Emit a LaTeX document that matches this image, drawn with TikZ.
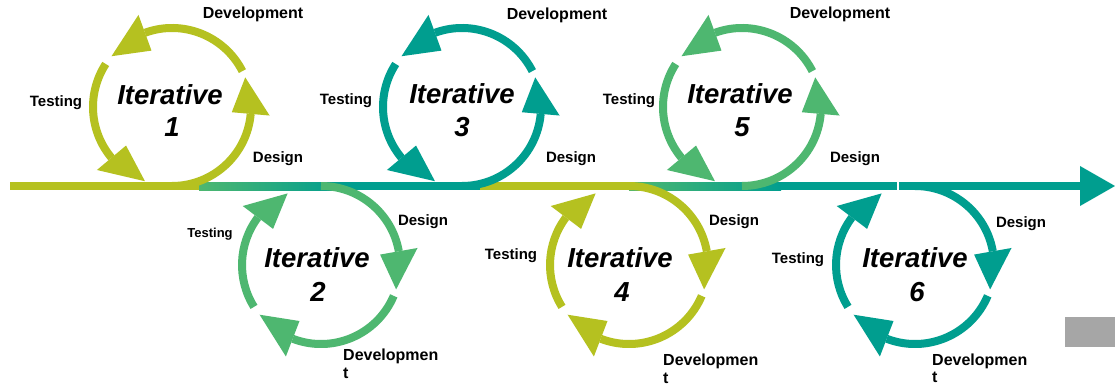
\documentclass[tikz,border=0pt]{standalone}
\usepackage{fontspec}
\setmainfont{Liberation Sans}
\definecolor{cyl}{RGB}{181,193,32}
\definecolor{cteal}{RGB}{0,158,143}
\definecolor{cgrn}{RGB}{78,183,112}
\definecolor{cgray}{RGB}{166,166,166}
\tikzset{
  shaft/.style={line width=8pt},
  lbl/.style={font=\bfseries\fontsize{15}{18}\selectfont, anchor=base, inner sep=0pt},
  devlbl/.style={lbl, font=\bfseries\fontsize{16}{18}\selectfont},
  devlow/.style={devlbl, anchor=base west},
  itx/.style={font=\bfseries\itshape\fontsize{27.5}{32}\selectfont, anchor=base, inner sep=0pt}
}
\newcommand\UpCyc[2]{%
  \begin{scope}[shift={(#1,279)}]
    \draw[shaft,#2] (270:79) arc[start angle=270,end angle=355,radius=79];
    \fill[#2] (355:60) -- (355:98) -- (382:79) -- cycle;
    \draw[shaft,#2] (27:79) arc[start angle=27,end angle=110,radius=79];
    \fill[#2] (110:60) -- (110:98) -- (140:79) -- cycle;
    \draw[shaft,#2] (147:79) arc[start angle=147,end angle=220,radius=79];
    \fill[#2] (220:60) -- (220:98) -- (250:79) -- cycle;
  \end{scope}}
\newcommand\LowCyc[2]{%
  \begin{scope}[shift={(#1,121)}]
    \draw[shaft,#2] (90:79) arc[start angle=90,end angle=10,radius=79];
    \fill[#2] (10:60) -- (10:98) -- (-18:79) -- cycle;
    \draw[shaft,#2] (-23:79) arc[start angle=-23,end angle=-111,radius=79];
    \fill[#2] (-111:60) -- (-111:98) -- (-141:79) -- cycle;
    \draw[shaft,#2] (-148:79) arc[start angle=-148,end angle=-217,radius=79];
    \fill[#2] (-217:60) -- (-217:98) -- (-245:79) -- cycle;
  \end{scope}}
\begin{document}
\begin{tikzpicture}[x=1pt,y=1pt]
  \useasboundingbox[fill=white] (0,0) rectangle (1115,386);
  % main time line
  \draw[shaft,cyl] (10,200) -- (200,200);
  \shade[left color=cgrn,right color=cteal] (199,196) rectangle (341,204);
  \draw[shaft,cteal] (340,200) -- (480,200);
  \draw[shaft,cyl] (480,200) -- (630,200);
  \shade[left color=cgrn,right color=cteal] (629,196) rectangle (781,204);
  \draw[shaft,cteal] (780,200) -- (897,200);
  \draw[shaft,cteal] (899,200) -- (1082,200);
  \coordinate (tipA) at (1080,220);
  \coordinate (tipB) at (1080,180);
  \coordinate (tipC) at (1115,200);
  \fill[cteal] (tipA) -- (tipC) -- (tipB) -- cycle;
  % cycles
  \UpCyc{172}{cyl}
  \LowCyc{321}{cgrn}
  \UpCyc{462}{cteal}
  \LowCyc{629}{cyl}
  \UpCyc{742}{cgrn}
  \LowCyc{915}{cteal}
  % iteration titles
  \node[itx] (i1a) at (170,281) {Iterative};
  \node[itx] (i1b) at (172,249) {1};
  \node[itx] (i3a) at (462,282) {Iterative};
  \node[itx] (i3b) at (462,249) {3};
  \node[itx] (i5a) at (740,282) {Iterative};
  \node[itx] (i5b) at (742,249) {5};
  \node[itx] (i2a) at (317,119) {Iterative};
  \node[itx] (i2b) at (318,85) {2};
  \node[itx] (i4a) at (620,119) {Iterative};
  \node[itx] (i4b) at (622,85) {4};
  \node[itx] (i6a) at (915,119) {Iterative};
  \node[itx] (i6b) at (917,85) {6};
  % labels upper
  \node[devlbl] (d1) at (253,367) {Development};
  \node[lbl] (t1) at (56,279) {Testing};
  \node[lbl] (g1) at (278,223) {Design};
  \node[devlbl] (d3) at (557,366) {Development};
  \node[lbl] (t3) at (346,281) {Testing};
  \node[lbl] (g3) at (571,223) {Design};
  \node[devlbl] (d5) at (840,367) {Development};
  \node[lbl] (t5) at (629,281) {Testing};
  \node[lbl] (g5) at (855,223) {Design};
  % labels lower
  \node[lbl,font=\bfseries\fontsize{13}{16}\selectfont] (t2) at (210,149) {Testing};
  \node[lbl] (g2) at (423,161) {Design};
  \node[devlow] (d2a) at (343,26) {Developmen};
  \node[devlow] (d2b) at (343,8) {t};
  \node[lbl] (t4) at (511,127) {Testing};
  \node[lbl] (g4) at (734,161) {Design};
  \node[devlow] (d4a) at (663,21) {Developmen};
  \node[devlow] (d4b) at (663,3) {t};
  \node[lbl] (t6) at (798,123) {Testing};
  \node[lbl] (g6) at (1021,159) {Design};
  \node[devlow] (d6a) at (932,21) {Developmen};
  \node[devlow] (d6b) at (932,4) {t};
  % grey box
  \fill[cgray] (1065,39) rectangle (1115,69);
\end{tikzpicture}
\end{document}
